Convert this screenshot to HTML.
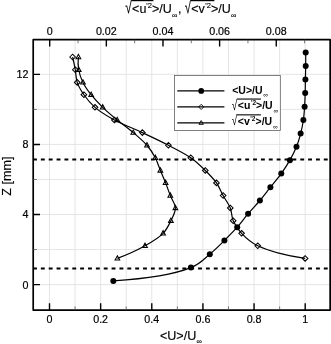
<!DOCTYPE html>
<html><head><meta charset="utf-8"><title>Velocity profiles</title>
<style>html,body{margin:0;padding:0;background:#fff}body{width:331px;height:344px;overflow:hidden}</style></head>
<body>
<svg width="331" height="344" viewBox="0 0 331 344" style="display:block;font-family:'Liberation Sans',sans-serif">
<rect width="331" height="344" fill="#fff"/>
<path d="M49.50,39.7V310.05M75.07,39.7V310.05M100.64,39.7V310.05M126.21,39.7V310.05M151.78,39.7V310.05M177.35,39.7V310.05M202.92,39.7V310.05M228.49,39.7V310.05M254.06,39.7V310.05M279.63,39.7V310.05M305.20,39.7V310.05M33.2,284.60H330.15M33.2,249.56H330.15M33.2,214.52H330.15M33.2,179.48H330.15M33.2,144.44H330.15M33.2,109.40H330.15M33.2,74.36H330.15" stroke="#e2e2e2" stroke-width="0.9" fill="none"/>
<rect x="174.4" y="75.4" width="105.9" height="55.05" fill="#fff" stroke="#555" stroke-width="0.75"/>
<path d="M33,159.55H330.15" stroke="#000" stroke-width="2" stroke-dasharray="3.9 3.96" fill="none"/>
<path d="M33,268.5H330.15" stroke="#000" stroke-width="2" stroke-dasharray="3.9 3.96" fill="none"/>
<path d="M113.30,280.90C148.65,278.60 174.51,274.18 190.90,267.62C200.36,263.84 204.07,258.83 209.80,254.14C215.16,249.75 219.76,245.04 224.40,240.46C228.88,236.05 233.20,231.70 237.20,227.18C241.09,222.78 244.34,218.13 248.10,213.70C251.90,209.23 256.15,204.95 259.90,200.49C263.58,196.12 266.86,191.66 270.40,187.21C273.98,182.70 277.95,178.19 281.25,173.59C284.43,169.17 287.33,164.68 289.90,160.15C292.39,155.76 294.69,151.33 296.50,146.83C298.25,142.46 299.50,138.03 300.65,133.55C301.80,129.09 302.74,124.52 303.40,120.01C304.05,115.56 304.30,111.14 304.60,106.66C304.90,102.15 305.07,97.59 305.20,93.05C305.33,88.51 305.32,83.95 305.40,79.43C305.48,74.94 305.65,70.51 305.70,66.02C305.75,61.50 305.75,56.96 305.70,52.41" stroke="#000" stroke-width="1.2" fill="none"/>
<path d="M72.60,57.00C73.63,61.25 74.53,65.50 75.30,69.75C76.06,73.96 75.83,78.31 77.20,82.39C78.63,86.65 81.10,90.74 83.90,94.73C86.93,99.07 90.42,103.39 95.00,107.33C100.29,111.89 107.12,115.99 114.40,119.97C122.67,124.49 133.24,128.35 142.35,132.62C151.23,136.78 160.13,140.95 168.40,145.26C176.22,149.34 184.33,153.25 190.75,157.76C196.40,161.73 200.90,166.13 205.30,170.45C209.43,174.51 213.48,178.53 216.50,182.88C219.32,186.92 220.80,191.37 223.10,195.55C225.40,199.74 228.61,203.70 230.30,207.99C231.92,212.10 231.44,216.62 233.20,220.71C235.09,225.09 237.91,229.39 241.60,233.33C245.82,237.83 250.25,242.18 257.75,245.80C268.88,251.18 284.66,255.38 305.10,258.42" stroke="#000" stroke-width="1.2" fill="none"/>
<path d="M78.40,57.00C77.86,61.31 77.96,65.56 78.70,69.75C79.45,74.02 80.95,78.32 82.95,82.39C85.04,86.66 87.99,90.71 91.15,94.73C94.52,99.03 98.49,103.23 102.70,107.33C107.14,111.65 112.18,115.82 117.20,119.97C122.36,124.25 128.20,128.31 133.25,132.62C138.09,136.75 143.17,140.85 146.95,145.26C150.38,149.27 153.03,153.47 155.30,157.76C157.47,161.87 158.68,166.25 160.40,170.45C162.11,174.63 163.95,178.70 165.60,182.88C167.25,187.06 168.66,191.35 170.30,195.55C171.93,199.73 175.30,203.80 175.40,207.99C175.50,212.19 172.89,216.57 170.90,220.71C168.83,225.03 166.82,229.45 163.10,233.33C158.66,237.96 151.93,241.88 145.00,245.80C136.99,250.33 127.79,254.53 117.40,258.42" stroke="#000" stroke-width="1.2" fill="none"/>
<circle cx="113.30" cy="280.90" r="3" fill="#000"/>
<circle cx="190.90" cy="267.62" r="3" fill="#000"/>
<circle cx="209.80" cy="254.14" r="3" fill="#000"/>
<circle cx="224.40" cy="240.46" r="3" fill="#000"/>
<circle cx="237.20" cy="227.18" r="3" fill="#000"/>
<circle cx="248.10" cy="213.70" r="3" fill="#000"/>
<circle cx="259.90" cy="200.49" r="3" fill="#000"/>
<circle cx="270.40" cy="187.21" r="3" fill="#000"/>
<circle cx="281.25" cy="173.59" r="3" fill="#000"/>
<circle cx="289.90" cy="160.15" r="3" fill="#000"/>
<circle cx="296.50" cy="146.83" r="3" fill="#000"/>
<circle cx="300.65" cy="133.55" r="3" fill="#000"/>
<circle cx="303.40" cy="120.01" r="3" fill="#000"/>
<circle cx="304.60" cy="106.66" r="3" fill="#000"/>
<circle cx="305.20" cy="93.05" r="3" fill="#000"/>
<circle cx="305.40" cy="79.43" r="3" fill="#000"/>
<circle cx="305.70" cy="66.02" r="3" fill="#000"/>
<circle cx="305.70" cy="52.41" r="3" fill="#000"/>
<path d="M69.80,57.00L72.60,54.20L75.40,57.00L72.60,59.80Z" fill="none" stroke="#000" stroke-width="1.05"/>
<path d="M72.50,69.75L75.30,66.95L78.10,69.75L75.30,72.55Z" fill="none" stroke="#000" stroke-width="1.05"/>
<path d="M74.40,82.39L77.20,79.59L80.00,82.39L77.20,85.19Z" fill="none" stroke="#000" stroke-width="1.05"/>
<path d="M81.10,94.73L83.90,91.94L86.70,94.73L83.90,97.53Z" fill="none" stroke="#000" stroke-width="1.05"/>
<path d="M92.20,107.33L95.00,104.53L97.80,107.33L95.00,110.13Z" fill="none" stroke="#000" stroke-width="1.05"/>
<path d="M111.60,119.97L114.40,117.17L117.20,119.97L114.40,122.77Z" fill="none" stroke="#000" stroke-width="1.05"/>
<path d="M139.55,132.62L142.35,129.82L145.15,132.62L142.35,135.42Z" fill="none" stroke="#000" stroke-width="1.05"/>
<path d="M165.60,145.26L168.40,142.46L171.20,145.26L168.40,148.06Z" fill="none" stroke="#000" stroke-width="1.05"/>
<path d="M187.95,157.76L190.75,154.96L193.55,157.76L190.75,160.56Z" fill="none" stroke="#000" stroke-width="1.05"/>
<path d="M202.50,170.45L205.30,167.65L208.10,170.45L205.30,173.25Z" fill="none" stroke="#000" stroke-width="1.05"/>
<path d="M213.70,182.88L216.50,180.07L219.30,182.88L216.50,185.68Z" fill="none" stroke="#000" stroke-width="1.05"/>
<path d="M220.30,195.55L223.10,192.75L225.90,195.55L223.10,198.35Z" fill="none" stroke="#000" stroke-width="1.05"/>
<path d="M227.50,207.99L230.30,205.19L233.10,207.99L230.30,210.79Z" fill="none" stroke="#000" stroke-width="1.05"/>
<path d="M230.40,220.71L233.20,217.91L236.00,220.71L233.20,223.51Z" fill="none" stroke="#000" stroke-width="1.05"/>
<path d="M238.80,233.33L241.60,230.53L244.40,233.33L241.60,236.13Z" fill="none" stroke="#000" stroke-width="1.05"/>
<path d="M254.95,245.80L257.75,243.00L260.55,245.80L257.75,248.60Z" fill="none" stroke="#000" stroke-width="1.05"/>
<path d="M302.30,258.42L305.10,255.62L307.90,258.42L305.10,261.22Z" fill="none" stroke="#000" stroke-width="1.05"/>
<path d="M76.05,58.65L78.40,54.35L80.75,58.65Z" fill="none" stroke="#000" stroke-width="1.05"/>
<path d="M76.35,71.40L78.70,67.09L81.05,71.40Z" fill="none" stroke="#000" stroke-width="1.05"/>
<path d="M80.60,84.04L82.95,79.74L85.30,84.04Z" fill="none" stroke="#000" stroke-width="1.05"/>
<path d="M88.80,96.39L91.15,92.08L93.50,96.39Z" fill="none" stroke="#000" stroke-width="1.05"/>
<path d="M100.35,108.98L102.70,104.68L105.05,108.98Z" fill="none" stroke="#000" stroke-width="1.05"/>
<path d="M114.85,121.62L117.20,117.32L119.55,121.62Z" fill="none" stroke="#000" stroke-width="1.05"/>
<path d="M130.90,134.27L133.25,129.97L135.60,134.27Z" fill="none" stroke="#000" stroke-width="1.05"/>
<path d="M144.60,146.91L146.95,142.61L149.30,146.91Z" fill="none" stroke="#000" stroke-width="1.05"/>
<path d="M152.95,159.41L155.30,155.11L157.65,159.41Z" fill="none" stroke="#000" stroke-width="1.05"/>
<path d="M158.05,172.10L160.40,167.80L162.75,172.10Z" fill="none" stroke="#000" stroke-width="1.05"/>
<path d="M163.25,184.53L165.60,180.22L167.95,184.53Z" fill="none" stroke="#000" stroke-width="1.05"/>
<path d="M167.95,197.20L170.30,192.90L172.65,197.20Z" fill="none" stroke="#000" stroke-width="1.05"/>
<path d="M173.05,209.64L175.40,205.34L177.75,209.64Z" fill="none" stroke="#000" stroke-width="1.05"/>
<path d="M168.55,222.36L170.90,218.06L173.25,222.36Z" fill="none" stroke="#000" stroke-width="1.05"/>
<path d="M160.75,234.98L163.10,230.68L165.45,234.98Z" fill="none" stroke="#000" stroke-width="1.05"/>
<path d="M142.65,247.45L145.00,243.15L147.35,247.45Z" fill="none" stroke="#000" stroke-width="1.05"/>
<path d="M115.05,260.07L117.40,255.77L119.75,260.07Z" fill="none" stroke="#000" stroke-width="1.05"/>
<rect x="33.2" y="39.7" width="296.95" height="270.35" fill="none" stroke="#000" stroke-width="1.7" stroke-linejoin="round"/>
<path d="M49.50,310.05v-6.8M100.64,310.05v-6.8M151.78,310.05v-6.8M202.92,310.05v-6.8M254.06,310.05v-6.8M305.20,310.05v-6.8M49.70,39.7v6.8M106.34,39.7v6.8M162.98,39.7v6.8M219.62,39.7v6.8M276.26,39.7v6.8M33.2,284.60h6.8M33.2,214.52h6.8M33.2,144.44h6.8M33.2,74.36h6.8" stroke="#000" stroke-width="1.4" fill="none"/>
<path d="M75.07,310.05v-3.6M126.21,310.05v-3.6M177.35,310.05v-3.6M228.49,310.05v-3.6M279.63,310.05v-3.6M78.02,39.7v3.6M134.66,39.7v3.6M191.30,39.7v3.6M247.94,39.7v3.6M304.58,39.7v3.6M33.2,249.56h3.6M33.2,179.48h3.6M33.2,109.40h3.6" stroke="#555" stroke-width="0.8" fill="none"/>
<g font-size="10.7" fill="#000" stroke="#000" stroke-width="0.2">
<text x="49.50" y="322.8" text-anchor="middle">0</text>
<text x="100.64" y="322.8" text-anchor="middle">0.2</text>
<text x="151.78" y="322.8" text-anchor="middle">0.4</text>
<text x="202.92" y="322.8" text-anchor="middle">0.6</text>
<text x="254.06" y="322.8" text-anchor="middle">0.8</text>
<text x="305.20" y="322.8" text-anchor="middle">1</text>
<text x="49.70" y="34.7" text-anchor="middle">0</text>
<text x="106.34" y="34.7" text-anchor="middle">0.02</text>
<text x="162.98" y="34.7" text-anchor="middle">0.04</text>
<text x="219.62" y="34.7" text-anchor="middle">0.06</text>
<text x="276.26" y="34.7" text-anchor="middle">0.08</text>
<text x="28.4" y="288.50" text-anchor="end">0</text>
<text x="28.4" y="218.42" text-anchor="end">4</text>
<text x="28.4" y="148.34" text-anchor="end">8</text>
<text x="28.4" y="78.26" text-anchor="end">12</text>
</g>
<g fill="#000" stroke="#000" stroke-width="0.15">
<text x="159.9" y="339.6" font-size="12.6">&lt;U&gt;/U<tspan font-size="7.8" dy="4.6" dx="0.2">∞</tspan></text>
<text transform="translate(10.8,176.2) rotate(-90)" font-size="12.6" text-anchor="middle">Z [mm]</text>
<text transform="translate(125.20,13.38) scale(0.593,0.846)" font-size="20.0" font-weight="normal">√</text><path d="M131.40,0.60H153.4" stroke="#000" stroke-width="1.2" fill="none"/>
<text x="132.1" y="13.3" font-size="12.5">&lt;u<tspan font-size="7.5" dy="-5.6">'2</tspan><tspan dy="5.6">&gt;/U</tspan><tspan font-size="7.8" dy="4.6" dx="0.2">∞</tspan></text>
<text x="177.9" y="13.3" font-size="12.5">,</text>
<text transform="translate(184.82,13.38) scale(0.564,0.846)" font-size="20.0" font-weight="normal">√</text><path d="M190.70,0.60H214.4" stroke="#000" stroke-width="1.2" fill="none"/>
<text x="191.2" y="13.3" font-size="12.5">&lt;v<tspan font-size="7.5" dy="-5.6" dx="0.6">'2</tspan><tspan dy="5.6">&gt;/U</tspan><tspan font-size="7.8" dy="4.6" dx="0.2">∞</tspan></text>
</g>
<path d="M177.3,90.9H224.4" stroke="#000" stroke-width="1.25"/>
<path d="M177.3,106.9H224.4" stroke="#000" stroke-width="1.25"/>
<path d="M177.3,122.85H224.4" stroke="#000" stroke-width="1.25"/>
<circle cx="201.2" cy="90.9" r="2.9" fill="#000"/>
<path d="M198.6,106.9L201.2,104.30000000000001L203.79999999999998,106.9L201.2,109.5Z" fill="none" stroke="#000" stroke-width="0.9"/>
<path d="M199.0,124.35L201.2,120.55L203.39999999999998,124.35Z" fill="none" stroke="#000" stroke-width="0.9"/>
<g font-size="10.5" font-weight="bold" fill="#000">
<text x="232.2" y="93.6">&lt;U&gt;/U<tspan font-size="6.5" dy="3.8" dx="0.8" font-weight="normal">∞</tspan></text>
<text transform="translate(231.85,109.60) scale(0.497,0.702)" font-size="20.0" font-weight="normal">√</text><path d="M237.00,99.05H260.9" stroke="#000" stroke-width="1.1" fill="none"/>
<text x="237.85" y="109.4">&lt;u<tspan font-size="6.5" dy="-4.6" dx="0.5">'2</tspan><tspan dy="4.6">&gt;/U</tspan><tspan font-size="6.5" dy="3.8" dx="0.8" font-weight="normal">∞</tspan></text>
<text transform="translate(231.85,125.40) scale(0.497,0.702)" font-size="20.0" font-weight="normal">√</text><path d="M237.00,114.85H260.9" stroke="#000" stroke-width="1.1" fill="none"/>
<text x="237.85" y="125.2">&lt;v<tspan font-size="6.5" dy="-4.6" dx="0.5">'2</tspan><tspan dy="4.6">&gt;/U</tspan><tspan font-size="6.5" dy="3.8" dx="0.8" font-weight="normal">∞</tspan></text>
</g>
</svg>
</body></html>
